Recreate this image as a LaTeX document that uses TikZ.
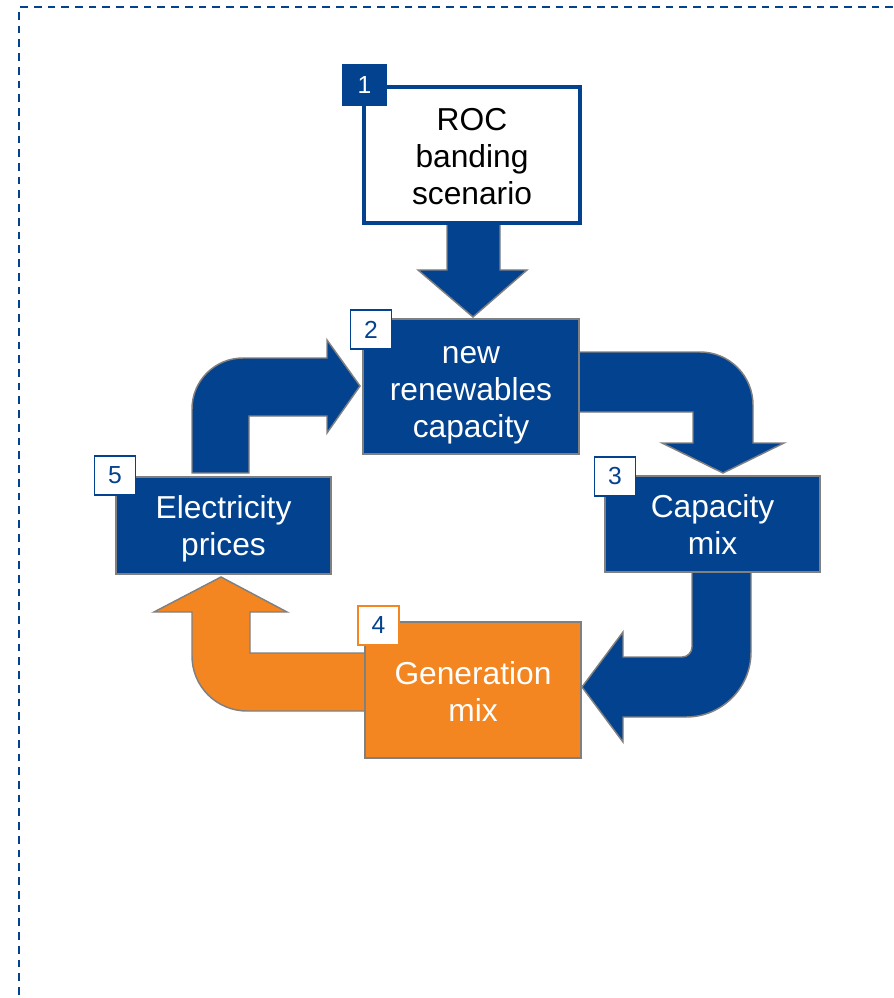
\documentclass[tikz,border=0pt]{standalone}
\usepackage{fontspec}
\setmainfont{Liberation Sans}
\definecolor{pblue}{RGB}{3,66,143}
\definecolor{porange}{RGB}{243,134,32}
\definecolor{pgray}{RGB}{128,128,128}
\tikzset{
  frameline/.style={draw=pblue, line width=1.5pt, dash pattern=on 5.8pt off 4.5pt},
  bluearrow/.style={fill=pblue, draw=pgray, line width=1.1pt, line join=miter},
  orangearrow/.style={fill=porange, draw=pgray, line width=1.1pt, line join=miter},
  boxtext/.style={align=center, font=\fontsize{23.8}{27.75}\selectfont, inner sep=0pt},
  bluebox/.style={rectangle, fill=pblue, draw=pgray, line width=1.1pt, text=white, boxtext},
  orangebox/.style={rectangle, fill=porange, draw=pgray, line width=1.1pt, text=white, boxtext},
  scenbox/.style={rectangle, fill=white, draw=pblue, line width=3pt, text=black, boxtext},
  numtag/.style={rectangle, fill=white, draw=pblue, line width=1.1pt, text=pblue,
    minimum width=30.75pt, minimum height=29.25pt, inner sep=0pt,
    font=\fontsize{18.5}{22}\selectfont},
}
\begin{document}
\begin{tikzpicture}[x=0.75pt,y=-0.75pt]
\useasboundingbox (0,0) rectangle (893,998);

% dashed frame (top and left sides)
\coordinate (ftr) at (893,7);
\coordinate (ftl) at (19,7);
\coordinate (fbl) at (19,998);
\draw[frameline] (ftr) -- (ftl) -- (fbl);

% block arrows, drawn beneath the boxes
% 1 -> 2
\path[bluearrow] (447,222) -- (500,222) -- (500,270) -- (527,270) -- (473,317)
  -- (418,270) -- (447,270) -- cycle;
% 2 -> 3
\path[bluearrow] (575,352) -- (700,352) .. controls (729.3,352) and (753,375.7) .. (753,405)
  -- (753,443) -- (784,443) -- (723,473) -- (662,443) -- (693,443) -- (693,412)
  -- (575,412) -- cycle;
% 3 -> 4
\path[bluearrow] (692,568) -- (751,568) -- (751,652) .. controls (751,687.9) and (721.9,717) .. (686,717)
  -- (623,717) -- (623,742) -- (582,687) -- (623,632) -- (623,657) -- (682,657)
  .. controls (687.5,657) and (692,652.5) .. (692,647) -- cycle;
% 4 -> 5
\path[orangearrow] (370,653) -- (250,653) -- (250,612) -- (287,612) -- (221,577)
  -- (154,612) -- (192,612) -- (192,656) .. controls (192,686.4) and (216.6,711) .. (247,711)
  -- (370,711) -- cycle;
% 5 -> 2
\path[bluearrow] (192,473) -- (192,409) .. controls (192,380.8) and (214.8,358) .. (243,358)
  -- (327,358) -- (327,340) -- (360,386) -- (327,433) -- (327,416) -- (249,416)
  -- (249,473) -- cycle;

% boxes (empty frames, text placed separately)
\node[scenbox, minimum width=162pt, minimum height=102pt] (roc) at (472,155) {};
\node[bluebox, minimum width=162pt, minimum height=101.25pt] (newcap) at (471,386.5) {};
\node[bluebox, minimum width=161.25pt, minimum height=72pt] (capmix) at (712.5,524) {};
\node[orangebox, minimum width=162pt, minimum height=102pt] (genmix) at (473,690) {};
\node[bluebox, minimum width=161.25pt, minimum height=72.75pt] (prices) at (223.5,525.5) {};

% box labels
\node[boxtext, text=black] (roclbl) at ([yshift=-1.5pt]roc.center) {ROC\\banding\\scenario};
\node[boxtext, text=white] (newcaplbl) at ([yshift=-6.5pt]newcap.center) {new\\renewables\\capacity};
\node[boxtext, text=white] (capmixlbl) at ([yshift=-0.5pt]capmix.center) {Capacity\\mix};
\node[boxtext, text=white] (genmixlbl) at ([yshift=-1pt]genmix.center) {Generation\\mix};
\node[boxtext, text=white] (priceslbl) at ([yshift=-2.5pt]prices.center) {Electricity\\prices};

% number tags
\node[numtag, fill=pblue, draw=pblue, text=white, minimum width=32.25pt, minimum height=30pt] (t1) at (364.5,85) {1};
\node[numtag] (t2) at (371,329.5) {2};
\node[numtag] (t3) at (615,476.5) {3};
\node[numtag, draw=porange] (t4) at (378.5,625.5) {4};
\node[numtag] (t5) at (115,475.5) {5};
\end{tikzpicture}
\end{document}
